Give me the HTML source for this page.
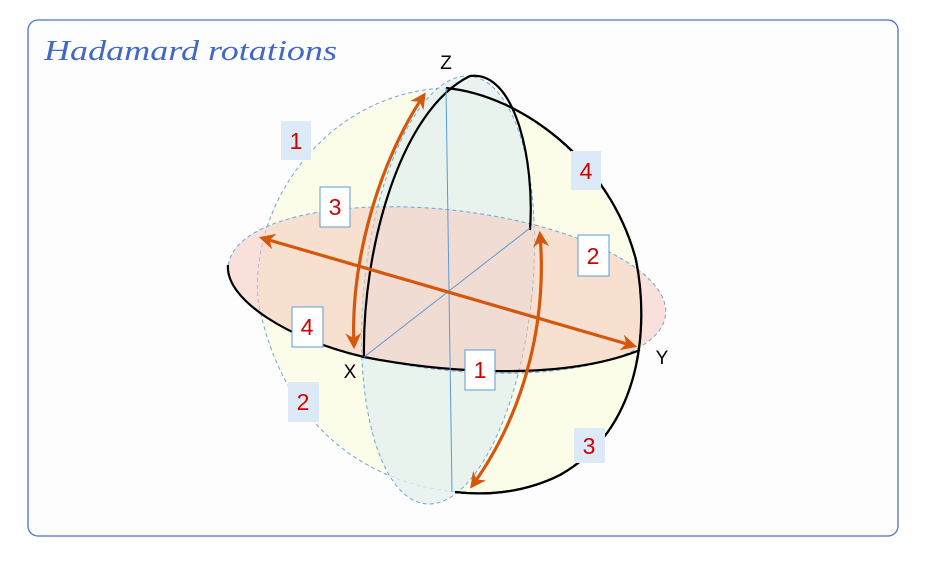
<!DOCTYPE html>
<html><head><style>
html,body{margin:0;padding:0;background:#fff;}
</style></head><body>
<svg width="935" height="560" viewBox="0 0 935 560" xmlns="http://www.w3.org/2000/svg" font-family="Liberation Sans, sans-serif">
<defs>
<marker id="ah" viewBox="0 0 10 10" refX="8" refY="5" markerWidth="5" markerHeight="5" orient="auto-start-reverse">
<path d="M0,0 L10,5 L0,10 L3,5 z" fill="#d4570c"/>
</marker>
</defs>
<rect x="28" y="20" width="870" height="516" rx="10" fill="#fdfdfe" stroke="#4a72c4" stroke-width="1.3"/>
<text x="44" y="60" font-family="Liberation Serif, serif" font-style="italic" font-size="29" fill="#4169c4" textLength="293" lengthAdjust="spacingAndGlyphs">Hadamard rotations</text>

<!-- sphere -->
<path d="M446,88 C520,95 610,160 636,260 C650,330 640,430 560,475 C520,495 480,495 455,492 C360,482 280,420 258,300 C250,200 330,92 446,88 Z" fill="#fbfde9"/>
<path d="M455,492 C360,482 280,420 258,300 C250,200 330,92 446,88" fill="none" stroke="#6aa6dc" stroke-width="1" stroke-dasharray="4,3"/>
<path d="M446,88 C520,95 610,160 636,260 C650,330 640,430 560,475 C520,495 480,495 455,492" fill="none" stroke="#000" stroke-width="2.2"/>

<!-- vertical ellipse -->
<g transform="rotate(6 448 290)">
<ellipse cx="448" cy="290" rx="84" ry="215" fill="#e3f0ee" fill-opacity="0.8" stroke="#6aa6dc" stroke-width="1" stroke-dasharray="4,3"/>
</g>
<!-- equator -->
<g transform="rotate(6.5 447 290)">
<ellipse cx="447" cy="290" rx="220" ry="80" fill="#f6c9bd" fill-opacity="0.55" stroke="#6aa6dc" stroke-width="1" stroke-dasharray="4,3"/>
</g>
<!-- black front arcs -->
<path d="M228,265 C225,300 290,340 364,357 C440,372 560,382 640,350" fill="none" stroke="#000" stroke-width="2.2"/>
<path d="M364,357 C362,250 400,110 470,76 C515,70 535,160 530,230" fill="none" stroke="#000" stroke-width="2.2"/>
<path d="M446,88 C520,95 610,160 636,260 C650,330 640,430 560,475 C520,495 480,495 455,492" fill="none" stroke="#000" stroke-width="2.2"/>

<line x1="446" y1="88" x2="452" y2="492" stroke="#5b9bd5" stroke-width="1"/>
<line x1="364" y1="357" x2="530" y2="228" stroke="#5b9bd5" stroke-width="1"/>

<!-- arrows -->
<g stroke="#d4570c" stroke-width="3.2" fill="none" marker-start="url(#ah)" marker-end="url(#ah)">
<line x1="262" y1="238" x2="634" y2="346"/>
<path d="M424,95 C380,160 350,260 354,346"/>
<path d="M540,234 C548,330 520,420 472,486"/>
</g>

<!-- labels -->
<g font-size="23" fill="#d00000" text-anchor="middle">
<rect x="281" y="121" width="30" height="39" fill="#dce9f6"/><text x="296" y="149">1</text>
<rect x="571" y="151" width="30" height="39" fill="#dce9f6"/><text x="586" y="179">4</text>
<rect x="288" y="382" width="31" height="40" fill="#dce9f6"/><text x="303" y="410">2</text>
<rect x="574" y="428" width="31" height="35" fill="#dce9f6"/><text x="589" y="454">3</text>
<rect x="320" y="187" width="30" height="40" fill="#fff" stroke="#5b9bd5"/><text x="335" y="215">3</text>
<rect x="578" y="235" width="31" height="41" fill="#fff" stroke="#5b9bd5"/><text x="593" y="264">2</text>
<rect x="292" y="307" width="31" height="40" fill="#fff" stroke="#5b9bd5"/><text x="307" y="335">4</text>
<rect x="465" y="350" width="30" height="40" fill="#fff" stroke="#5b9bd5"/><text x="480" y="378">1</text>
</g>
<g font-size="19" fill="#000" text-anchor="middle">
<text x="446" y="69">Z</text>
<text x="350" y="378">X</text>
<text x="662" y="364">Y</text>
</g>
</svg>
</body></html>
